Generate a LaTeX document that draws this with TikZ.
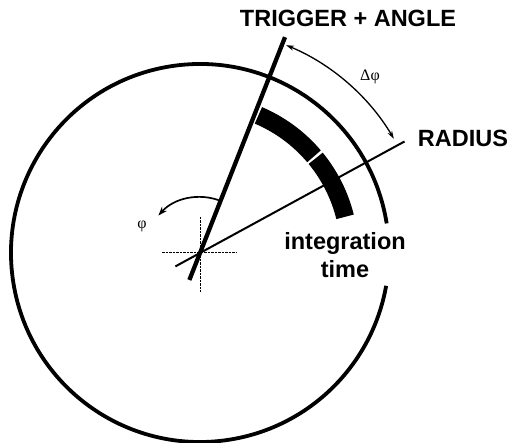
\documentclass[tikz,border=0pt]{standalone}
\usepackage{fontspec}
\setmainfont{Liberation Sans}
\newfontfamily\serifphi{Liberation Serif}
\usetikzlibrary{arrows.meta}
\begin{document}
\begin{tikzpicture}[x=1pt,y=1pt,
  lbl/.style={font=\bfseries\fontsize{23.5}{26}\selectfont, inner sep=0pt},
  greek/.style={font=\serifphi\fontsize{16}{19}\selectfont, inner sep=0pt},
  band/.style={line width=18pt},
  cross/.style={line width=1pt, dash pattern=on 2.5pt off 1pt},
  tip/.style={-{Stealth[length=9pt,width=6.5pt]}},
  tips/.style={{Stealth[length=8pt,width=5pt]}-{Stealth[length=8pt,width=5pt]}}]
\useasboundingbox (0,0) rectangle (509,443);
\coordinate (C) at (200,190);
% outer circle with gap at the text
\draw[line width=3.8pt] ([shift={(9:189pt)}]C) arc[start angle=9, end angle=350, radius=189pt];
% crosshair
\coordinate (hl) at ([xshift=-38pt]C);
\coordinate (hr) at ([xshift=37pt]C);
\coordinate (vt) at ([yshift=36pt]C);
\coordinate (vb) at ([yshift=-39pt]C);
\draw[cross] (hl) -- (hr);
\draw[cross] (vt) -- (vb);
% integration bands
\draw[band] ([shift={(67:149.5pt)}]C) arc[start angle=67, end angle=40.3, radius=149.5pt];
\draw[band] ([shift={(39.3:149.5pt)}]C) arc[start angle=39.3, end angle=14, radius=149.5pt];
% trigger line
\coordinate (T0) at ([shift={(248.5:29pt)}]C);
\coordinate (T1) at ([shift={(68.5:232pt)}]C);
\draw[line width=4.3pt] (T0) -- (T1);
% radius line
\coordinate (R0) at ([shift={(208.6:28pt)}]C);
\coordinate (R1) at ([shift={(28.6:233pt)}]C);
\draw[line width=2pt] (R0) -- (R1);
% delta phi arc
\draw[line width=1.3pt, tips] ([shift={(67.5:225pt)}]C) arc[start angle=67.5, end angle=30.5, radius=225pt];
% phi arc
\draw[line width=1.7pt, tip] ([shift={(68:56pt)}]C) arc[start angle=68, end angle=138, radius=56pt];
% labels
\node[lbl] (trig) at (348,424.5) {TRIGGER + ANGLE};
\node[lbl] (rad) at (463,305) {RADIUS};
\node[lbl, anchor=base] (integ) at (345,193) {integration};
\node[lbl, anchor=base] (time) at (345,165) {time};
\node[greek] (dphi) at (370,366) {Δφ};
\node[greek] (phi) at (142,217) {φ};
\end{tikzpicture}
\end{document}
